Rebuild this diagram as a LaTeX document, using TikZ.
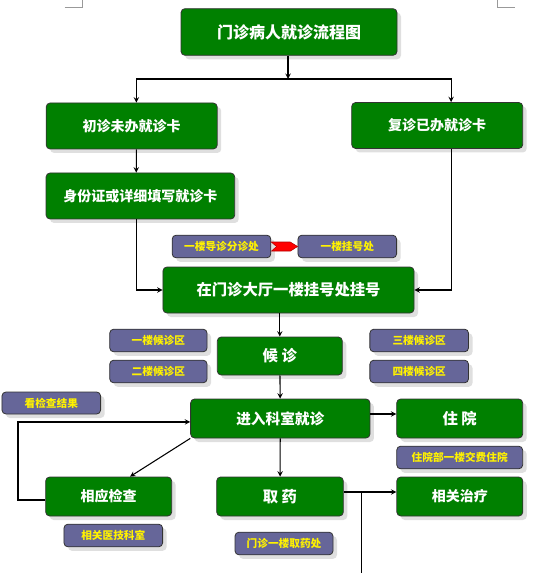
\documentclass[tikz,border=0pt]{standalone}
\usepackage{fontspec}
\newfontfamily\cjk{Noto Sans CJK SC}
\usepackage{tikz}
\usetikzlibrary{arrows.meta, shadows}
\usetikzlibrary{positioning}
\definecolor{boxgreen}{RGB}{0,128,0}
\definecolor{boxpurple}{RGB}{102,102,153}
\tikzstyle{arrow}     = [thick,->,>=stealth]
\tikzstyle{stepgreen} = [draw=black!80, rounded corners=3pt, fill=boxgreen, text=white,
  font=\cjk\bfseries\fontsize{10.5pt}{12pt}\selectfont, line width=0.6pt,
  minimum width=94.5pt, minimum height=29.25pt,
  drop shadow={shadow xshift=3pt, shadow yshift=-3pt, fill=black!25}]
\tikzstyle{place}     = [draw=black!80, rounded corners=3pt, fill=boxpurple, text=yellow,
  font=\cjk\bfseries\fontsize{8pt}{9pt}\selectfont, line width=0.6pt,
  minimum width=74pt, minimum height=17pt,
  drop shadow={shadow xshift=3pt, shadow yshift=-3pt, fill=black!25}]

\begin{document}
\begin{tikzpicture}[x=0.75pt, y=-0.75pt]
      \useasboundingbox (0,0) rectangle (536,573);
      % page corner marks
      \draw[black!40] (64.6,7) -- (82,7) -- (82,0);
      \draw[black!40] (514.5,7) -- (497,7) -- (497,0);

      % Main flow
      \node[stepgreen, minimum width=162pt, minimum height=35pt, font=\cjk\bfseries\fontsize{12pt}{14pt}\selectfont] (title)
        at (289,32) {门诊病人就诊流程图};
      \node[stepgreen, minimum width=128.3pt, minimum height=34.5pt] (chu)
        at (131.7,126) {初诊未办就诊卡};
      \node[stepgreen, minimum width=128.3pt, minimum height=34.5pt] (fu)
        at (437.2,125.5) {复诊已办就诊卡};
      \node[stepgreen, minimum width=141.5pt, minimum height=34.5pt] (shen)
        at (140.4,196) {身份证或详细填写就诊卡};
      \node[stepgreen, minimum width=188.3pt, minimum height=34.5pt, font=\cjk\bfseries\fontsize{11.5pt}{13pt}\selectfont] (guahao)
        at (288.5,290) {在门诊大厅一楼挂号处挂号};
      \node[stepgreen, minimum width=93.8pt, minimum height=28.5pt, font=\cjk\bfseries\fontsize{11.5pt}{13pt}\selectfont] (houzhen)
        at (279.8,356) {候\ 诊};
      \node[stepgreen, minimum width=134.5pt, font=\cjk\bfseries\fontsize{11pt}{13pt}\selectfont] (jinru)
        at (280.3,418.5) {进入科室就诊};
      \node[stepgreen, font=\cjk\bfseries\fontsize{11.5pt}{13pt}\selectfont] (zhuyuan)
        at (459.7,418.5) {住\ 院};
      \node[stepgreen] (jiancha) at (108.7,496.5) {相应检查};
      \node[stepgreen, minimum width=95pt, font=\cjk\bfseries\fontsize{11.5pt}{13pt}\selectfont] (quyao)
        at (280,496.5) {取\ 药};
      \node[stepgreen] (zhiliao) at (459.8,496.5) {相关治疗};

      % Places
      \node[place] (daozhen) at (221.5,246.5) {一楼导诊分诊处};
      \node[place] (guahaochu) at (347.3,246.5) {一楼挂号处};
      \node[place, minimum width=73pt] (hou1) at (158.4,340.5) {一楼候诊区};
      \node[place, minimum width=73pt] (hou2) at (158.4,371.5) {二楼候诊区};
      \node[place] (hou3) at (419.2,340.5) {三楼候诊区};
      \node[place] (hou4) at (419.2,371.5) {四楼候诊区};
      \node[place, minimum width=94.5pt] (jiaofei) at (459.7,457.5) {住院部一楼交费住院};
      \node[place, minimum height=16.5pt] (jieguo) at (51.3,403) {看检查结果};
      \node[place] (yiji) at (113.3,535.5) {相关医技科室};
      \node[place, minimum width=73.5pt] (yaofang) at (284,543.5) {门诊一楼取药处};

      % red arrow between the two desks
      \draw[red!70!black, fill=red] (daozhen.east) ++(0,-4.5) -- ++(19,0) -- (guahaochu.west)
        -- ++(-7,4.5) -- ++(-19,0) -- ++(5,-4.5) -- cycle;

      % Connectors
      \coordinate (split) at (288,79);
      \draw[arrow] (title.south -| split) -- (split);
      \draw[arrow] (split) -| ([xshift=3.5pt]chu.north);
      \draw[arrow] (split) -| ([xshift=10.4pt]fu.north);
      \draw[arrow] ([xshift=3.5pt]chu.south) -- ([xshift=-3.1pt]shen.north);
      \draw[arrow] ([xshift=-3.1pt]shen.south) |- (guahao.west);
      \draw[arrow] ([xshift=10.4pt]fu.south) |- (guahao.east);
      \draw[arrow] (guahao.south -| houzhen) -- (houzhen.north);
      \draw[arrow] (houzhen) -- (jinru);
      \draw[arrow] ([yshift=3.4pt]jinru.east) -- ([yshift=3.4pt]zhuyuan.west);
      \draw[arrow] (jinru.south west) -- ([xshift=16pt]jiancha.north);
      \draw[arrow] ([yshift=-2.6pt]jiancha.west) -- ++(-20.5pt,0) |- ([yshift=-2.6pt]jinru.west);
      \draw[arrow] (jinru) -- (quyao);
      \draw[arrow] ([yshift=3.4pt]quyao.east) -- ([yshift=3.4pt]zhiliao.west);
      \coordinate (bottom) at (361.7,573);
      \draw[thick] ([yshift=3.4pt]quyao.east -| bottom) -- (bottom);
\end{tikzpicture}
\end{document}
